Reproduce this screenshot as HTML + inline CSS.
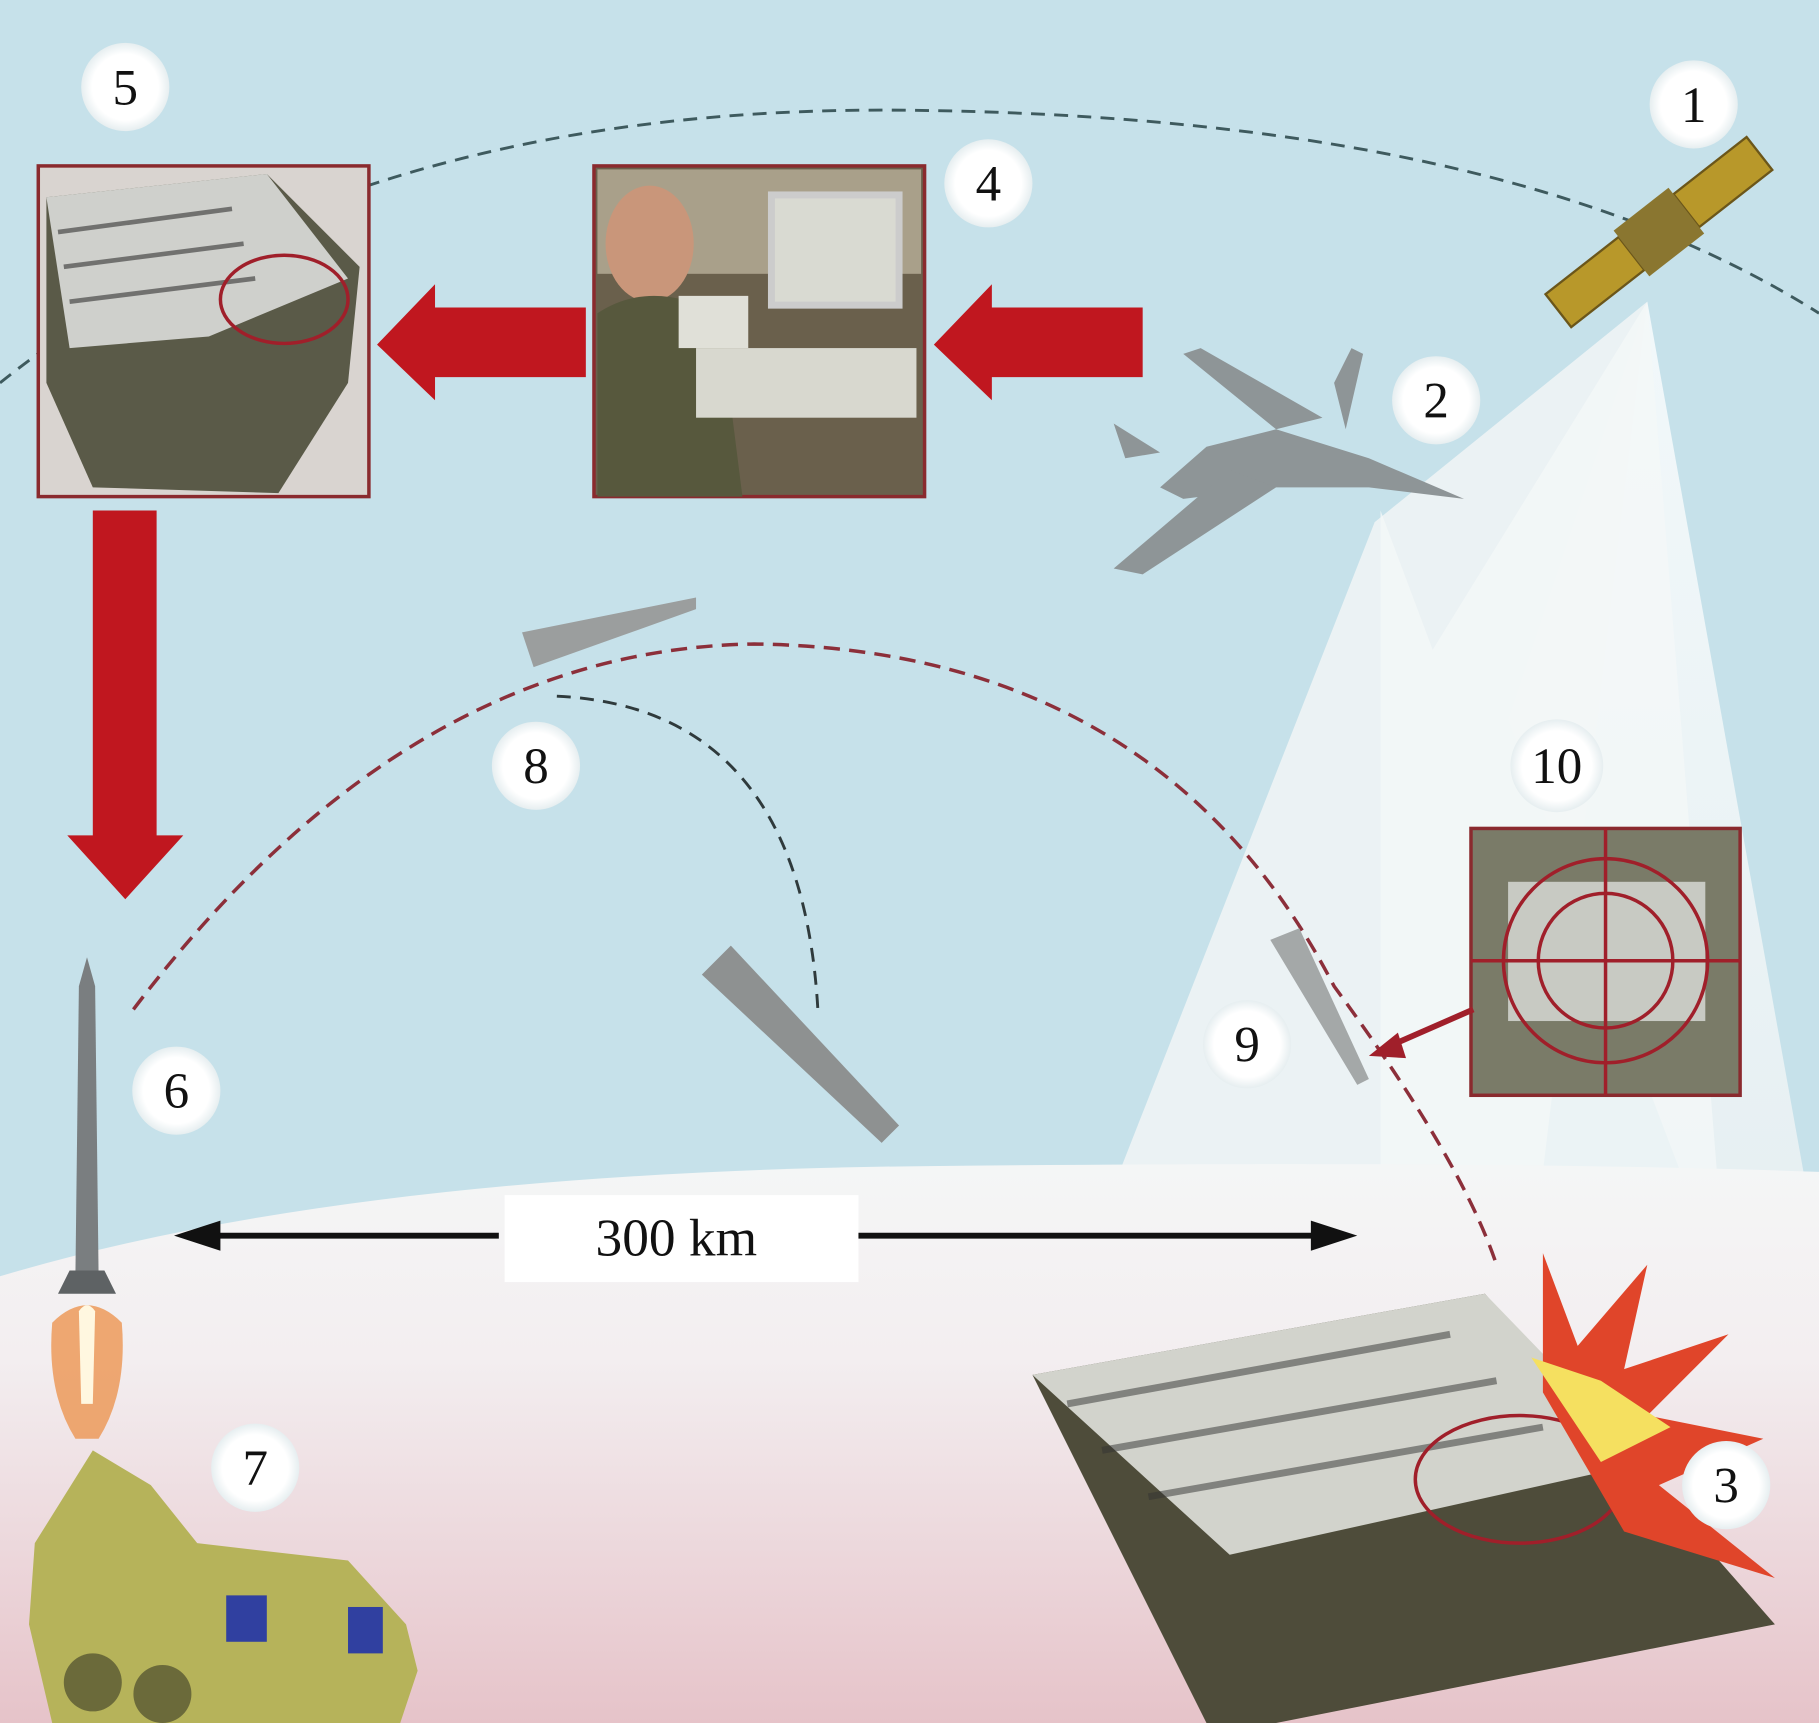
<!DOCTYPE html>
<html><head><meta charset="utf-8"><style>html,body{margin:0;padding:0;overflow:hidden}svg{display:block}</style></head><body>
<svg width="1819" height="1723" viewBox="0 0 1568 1485" preserveAspectRatio="none" xmlns="http://www.w3.org/2000/svg">
<defs>
<linearGradient id="ground" x1="0" y1="0" x2="0" y2="1">
<stop offset="0" stop-color="#f4f6f6"/><stop offset="0.35" stop-color="#f3eef0"/><stop offset="1" stop-color="#e6c3c9"/></linearGradient>
<linearGradient id="beam" x1="0" y1="0" x2="0" y2="1"><stop offset="0" stop-color="#ffffff" stop-opacity="0.9"/><stop offset="1" stop-color="#eef3f4" stop-opacity="0.95"/></linearGradient>
<radialGradient id="circ"><stop offset="0.75" stop-color="#fff"/><stop offset="1" stop-color="#e6eef0"/></radialGradient>
</defs>
<rect width="1568" height="1485" fill="#c6e1ea"/>
<polygon points="1420,260 1300,620 1460,1040 1560,1040" fill="url(#beam)" opacity="0.85"/>
<polygon points="1420,260 1185,450 965,1010 1330,1010" fill="#eef4f5" opacity="0.9"/>
<polygon points="1420,260 1235,560 1190,440 1190,1010 1480,1010" fill="#f4f7f7" opacity="0.8"/>
<path d="M0,1100 Q300,1010 800,1005 Q1300,1000 1568,1010 L1568,1485 L0,1485 Z" fill="url(#ground)"/>
<path d="M0,330 Q300,90 780,95 Q1300,100 1568,270" fill="none" stroke="#3e5a5e" stroke-width="2.5" stroke-dasharray="12,8"/>
<path d="M115,870 Q350,560 650,555 Q1000,560 1150,850 Q1260,1000 1290,1090" fill="none" stroke="#8c2f3a" stroke-width="3" stroke-dasharray="14,8"/>
<path d="M480,600 Q690,610 705,870" fill="none" stroke="#2f3a3c" stroke-width="2.5" stroke-dasharray="12,8"/>
<rect x="33" y="143" width="285" height="285" fill="#d9d4d0" stroke="#8a2a2e" stroke-width="3"/>
<polygon points="40,170 230,150 310,230 300,330 240,425 80,420 40,330" fill="#5a5a48"/>
<polygon points="40,170 230,150 300,240 180,290 60,300" fill="#cfd0cc"/>
<g stroke="#333" stroke-width="4" opacity="0.6"><line x1="50" y1="200" x2="200" y2="180"/><line x1="55" y1="230" x2="210" y2="210"/><line x1="60" y1="260" x2="220" y2="240"/></g>
<ellipse cx="245" cy="258" rx="55" ry="38" fill="none" stroke="#a01f2a" stroke-width="3"/>
<rect x="512" y="143" width="285" height="285" fill="#6a604c" stroke="#8a2a2e" stroke-width="3"/>
<rect x="515" y="146" width="279" height="90" fill="#a9a08a"/>
<ellipse cx="560" cy="210" rx="38" ry="50" fill="#c9967a"/>
<path d="M515,270 Q560,240 620,270 L640,428 L515,428Z" fill="#57583d"/>
<rect x="665" y="168" width="110" height="95" fill="#d9dad2" stroke="#ccc" stroke-width="6"/>
<rect x="585" y="255" width="60" height="45" fill="#e0e0d8"/>
<rect x="600" y="300" width="190" height="60" fill="#d8d8cf"/>
<rect x="1268" y="714" width="232" height="230" fill="#7a7b68" stroke="#8a2a2e" stroke-width="3"/>
<rect x="1300" y="760" width="170" height="120" fill="#c8cac3"/>
<circle cx="1384" cy="828" r="88" fill="none" stroke="#a01f2a" stroke-width="3"/>
<circle cx="1384" cy="828" r="58" fill="none" stroke="#a01f2a" stroke-width="3"/>
<line x1="1384" y1="714" x2="1384" y2="944" stroke="#a01f2a" stroke-width="3"/>
<line x1="1268" y1="828" x2="1500" y2="828" stroke="#a01f2a" stroke-width="3"/>
<line x1="1270" y1="870" x2="1190" y2="905" stroke="#a01f2a" stroke-width="5"/>
<polygon points="1180,910 1205,890 1212,912" fill="#a01f2a"/>
<polygon points="985,265 855,265 855,245 805,297 855,345 855,325 985,325" fill="#c0171f"/>
<polygon points="505,265 375,265 375,245 325,297 375,345 375,325 505,325" fill="#c0171f"/>
<polygon points="80,440 135,440 135,720 158,720 108,775 58,720 80,720" fill="#c0171f"/>
<g transform="translate(1430,200) rotate(-38)">
<rect x="-110" y="-18" width="80" height="36" fill="#b8982a" stroke="#6b561a" stroke-width="2"/>
<rect x="30" y="-18" width="80" height="36" fill="#b8982a" stroke="#6b561a" stroke-width="2"/>
<rect x="-30" y="-25" width="60" height="50" fill="#8a7630"/>
</g>
<!-- jet -->
<g fill="#8e9597">
<polygon points="1262,430 1180,395 1100,370 1040,385 1000,420 1020,430 1100,420 1180,420"/>
<polygon points="1100,370 1020,305 1035,300 1140,360"/>
<polygon points="1060,405 960,490 985,495 1100,420"/>
<polygon points="1150,330 1165,300 1175,305 1160,370"/>
<polygon points="1000,390 960,365 970,395"/>
</g>
<polygon points="450,545 600,515 600,525 460,575" fill="#9b9e9e"/>
<polygon points="605,840 630,815 775,970 760,985" fill="#8e9191"/>
<polygon points="1095,810 1120,800 1180,930 1170,935" fill="#a4a8a8"/>
<rect x="435" y="1030" width="305" height="75" fill="#fff"/>
<text x="583" y="1082" font-family="Liberation Serif, serif" font-size="46" text-anchor="middle" fill="#111">300 km</text>
<line x1="180" y1="1065" x2="430" y2="1065" stroke="#111" stroke-width="5"/>
<polygon points="150,1065 190,1052 190,1078" fill="#111"/>
<line x1="740" y1="1065" x2="1140" y2="1065" stroke="#111" stroke-width="5"/>
<polygon points="1170,1065 1130,1052 1130,1078" fill="#111"/>
<!-- rocket -->
<polygon points="75,825 82,850 85,1100 65,1100 68,850" fill="#7a7e80"/>
<polygon points="60,1095 90,1095 100,1115 50,1115" fill="#5e6264"/>
<path d="M45,1140 Q75,1110 105,1140 Q110,1200 85,1240 L65,1240 Q40,1200 45,1140Z" fill="#ec9a5a" opacity="0.85"/>
<path d="M68,1130 Q75,1120 82,1130 L80,1210 L70,1210Z" fill="#fff7e0"/>
<!-- truck -->
<polygon points="30,1330 80,1250 130,1280 170,1330 300,1345 350,1400 360,1440 345,1485 45,1485 25,1400" fill="#b6b35a"/>
<rect x="195" y="1375" width="35" height="40" fill="#3040a0"/><rect x="300" y="1385" width="30" height="40" fill="#3040a0"/>
<circle cx="80" cy="1450" r="25" fill="#6b6a3a"/><circle cx="140" cy="1460" r="25" fill="#6b6a3a"/>
<polygon points="890,1185 1280,1115 1530,1400 1100,1485 1040,1485" fill="#4e4c3a"/>
<polygon points="890,1185 1280,1115 1420,1260 1060,1340" fill="#d2d3cc"/>
<g stroke="#333" stroke-width="6" opacity="0.5"><line x1="920" y1="1210" x2="1250" y2="1150"/><line x1="950" y1="1250" x2="1290" y2="1190"/><line x1="990" y1="1290" x2="1330" y2="1230"/></g>
<ellipse cx="1310" cy="1275" rx="90" ry="55" fill="none" stroke="#a01f2a" stroke-width="3"/>
<polygon points="1330,1080 1360,1160 1420,1090 1400,1180 1490,1150 1420,1220 1520,1240 1430,1280 1530,1360 1400,1320 1330,1200" fill="#e0452a"/>
<polygon points="1320,1170 1380,1190 1440,1230 1380,1260" fill="#f5e060"/>
<g font-family="Liberation Serif, serif" font-size="44" text-anchor="middle" fill="#111">
<circle cx="108" cy="75" r="38" fill="url(#circ)"/><text x="108" y="90">5</text>
<circle cx="852" cy="158" r="38" fill="url(#circ)"/><text x="852" y="173">4</text>
<circle cx="1460" cy="90" r="38" fill="url(#circ)"/><text x="1460" y="105">1</text>
<circle cx="1238" cy="345" r="38" fill="url(#circ)"/><text x="1238" y="360">2</text>
<circle cx="462" cy="660" r="38" fill="url(#circ)"/><text x="462" y="675">8</text>
<circle cx="1342" cy="660" r="40" fill="url(#circ)"/><text x="1342" y="675">10</text>
<circle cx="1075" cy="900" r="38" fill="url(#circ)"/><text x="1075" y="915">9</text>
<circle cx="152" cy="940" r="38" fill="url(#circ)"/><text x="152" y="955">6</text>
<circle cx="220" cy="1265" r="38" fill="url(#circ)"/><text x="220" y="1280">7</text>
<circle cx="1488" cy="1280" r="38" fill="url(#circ)"/><text x="1488" y="1295">3</text>
</g>
</svg>
</body></html>
